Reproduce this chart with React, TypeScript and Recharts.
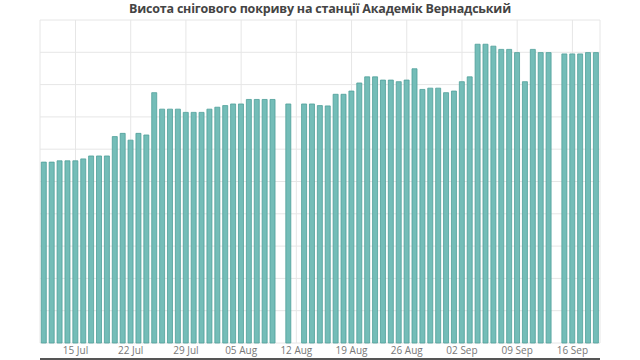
import { Bar, BarChart, CartesianGrid, XAxis, YAxis } from "recharts";

const TITLE = "Висота снігового покриву на станції Академік Вернадський";

// one bar per day, 11 Jul .. 19 Sep (null = no measurement)
const START_DAY = "2019-07-11";
const SNOW = [
  56, 56, 56.4, 56.4, 56.4, 57, 57.9, 57.9, 57.9, 63.9,
  64.9, 62.8, 64.9, 64.4, 77.5, 72.4, 72.4, 72.4, 71.4, 71.4,
  71.4, 72.4, 73, 73.5, 74, 74, 75.4, 75.4, 75.4, 75.4,
  null, 74, null, 74, 74, 73.5, 73.4, 77, 77, 78,
  80.5, 82.4, 82.4, 81.4, 81.4, 80.9, 81.4, 84.9, 78.5, 78.9,
  78.9, 77.5, 78, 80.9, 82.4, 92.5, 92.5, 91.9, 90.9, 90.9,
  89.9, 80.9, 90.9, 89.9, 89.9, null, 89.5, 89.5, 89.5, 89.9,
  89.9,
];

const X_TICKS = [
  "15 Jul", "22 Jul", "29 Jul", "05 Aug", "12 Aug",
  "19 Aug", "26 Aug", "02 Sep", "09 Sep", "16 Sep",
];
const Y_TICKS = [0, 10, 20, 30, 40, 50, 60, 70, 80, 90, 100];

const MONTHS = ["Jan", "Feb", "Mar", "Apr", "May", "Jun", "Jul", "Aug", "Sep", "Oct", "Nov", "Dec"];

function dayLabel(i: number) {
  const d = new Date(START_DAY + "T00:00:00Z");
  d.setUTCDate(d.getUTCDate() + i);
  return String(d.getUTCDate()).padStart(2, "0") + " " + MONTHS[d.getUTCMonth()];
}

const data = SNOW.map((v, i) => ({ day: dayLabel(i), snow: v }));

export default function App() {
  return (
    <div style={{ position: "absolute", left: 0, top: 0, width: 640, height: 360, background: "#fff" }}>
      <div
        style={{
          position: "absolute",
          top: 0,
          left: 0,
          width: 640,
          textAlign: "center",
          fontFamily: "'Open Sans', sans-serif",
          fontWeight: 700,
          fontSize: 12.5,
          letterSpacing: -0.2,
          lineHeight: "18px",
          color: "#444",
        }}
      >
        {TITLE}
      </div>
      <BarChart
        width={640}
        height={360}
        data={data}
        margin={{ top: 20, right: 40, bottom: 0, left: 40 }}
        barCategoryGap={1.3}
      >
        <CartesianGrid stroke="#e6e6e6" />
        <XAxis
          dataKey="day"
          ticks={X_TICKS}
          interval={0}
          height={16}
          axisLine={false}
          tickLine={false}
          tickSize={3}
          tickMargin={1}
          tick={{ fill: "#777", fontSize: 10, fontFamily: "'Open Sans', sans-serif" }}
        />
        <XAxis
          xAxisId="base"
          dataKey="day"
          height={1}
          tick={false}
          tickLine={false}
          axisLine={{ stroke: "#555", strokeWidth: 2 }}
        />
        <YAxis hide domain={[0, 100]} ticks={Y_TICKS} />
        <Bar
          dataKey="snow"
          fill="#74bdb8"
          stroke="#4f9f99"
          strokeWidth={0.8}
          isAnimationActive={false}
        />
      </BarChart>
    </div>
  );
}
